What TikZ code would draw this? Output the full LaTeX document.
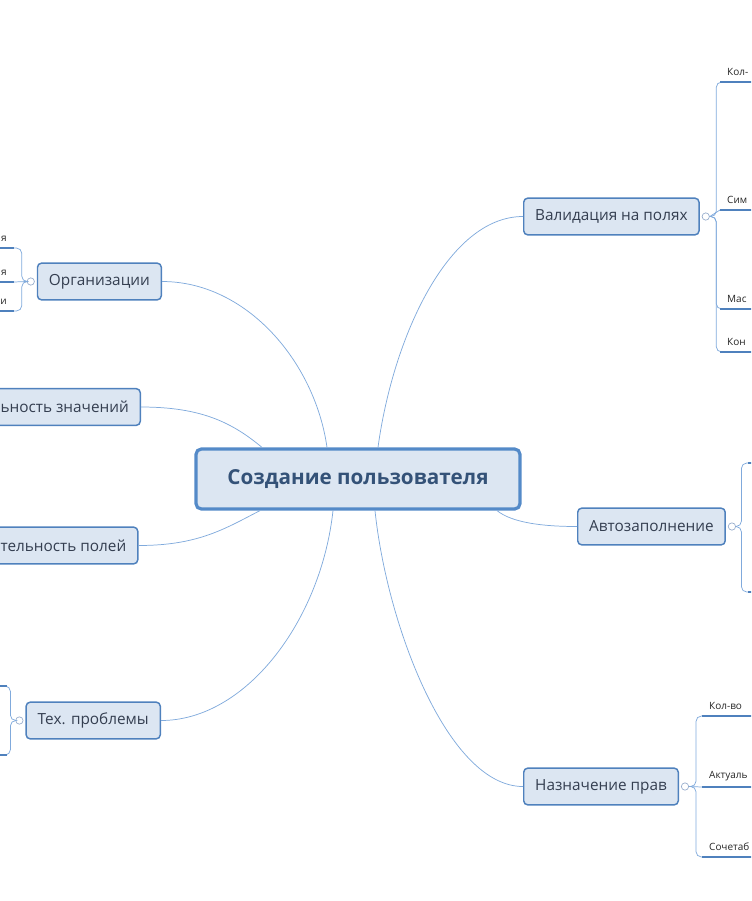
\documentclass[tikz,border=0pt]{standalone}
\usepackage{fontspec}
\setmainfont{Open Sans}
\usepackage{xcolor}
\usepackage{tikz}
\usetikzlibrary{positioning, calc}
\definecolor{boxFill}{RGB}{220, 230, 242}
\definecolor{boxEdge}{RGB}{79, 129, 189}
\definecolor{rootEdge}{RGB}{84, 138, 200}
\definecolor{rootText}{RGB}{52, 82, 120}
\definecolor{topicText}{RGB}{52, 62, 80}
\definecolor{lineLight}{RGB}{128, 170, 220}
\definecolor{foldEdge}{RGB}{150, 172, 204}

\begin{document}
\begin{tikzpicture}[x=0.75pt, y=-0.75pt,
    root/.style={draw=rootEdge, line width=2.4pt, rounded corners=4pt, fill=boxFill, minimum width=243pt, minimum height=45pt, text=rootText, font=\fontsize{15.5}{18}\selectfont\bfseries},
    topic/.style={draw=boxEdge, line width=1.1pt, rounded corners=3pt, fill=boxFill, minimum height=27.5pt, inner xsep=8.6pt, text=topicText, font=\fontsize{11.5}{14}\selectfont},
    conn/.style={draw=lineLight, line width=0.55pt},
    twig/.style={draw=lineLight, line width=0.55pt, rounded corners=4pt},
    leaf/.style={draw=boxEdge, line width=1.5pt},
    fold/.style={circle, draw=foldEdge, fill=white, line width=0.5pt, inner sep=0pt, minimum size=5.5pt},
    lbl/.style={inner xsep=5.2pt, inner ysep=4.5pt, text=black!85, font=\fontsize{7.5}{9}\selectfont}]
    \useasboundingbox (0,0) rectangle (751,901);
    \clip (0,0) rectangle (751,901);
    % Central box
    \node[root] (root) at (358,479) {Создание пользователя};
    % Topics
    \node[topic, anchor=west] (val) at (523,216.5) {Валидация на полях};
    \node[topic, anchor=west] (auto) at (577,526.5) {Автозаполнение};
    \node[topic, anchor=west] (rights) at (523,786.5) {Назначение прав};
    \node[topic, anchor=east] (tech) at (161,720.5) {Тех. проблемы};
    \node[topic, anchor=east] (org) at (162,281.5) {Организации};
    \node[topic, anchor=east] (vals) at (141,407) {ьность значений};
    \node[topic, anchor=east] (order) at (138.5,545.5) {тельность полей};
    % Fold marks
    \node[fold, right=1.5pt of val] (fval) {};
    \node[fold, right=1.5pt of auto] (fauto) {};
    \node[fold, right=1.5pt of rights] (frights) {};
    \node[fold, left=1.5pt of tech] (ftech) {};
    \node[fold, left=1.5pt of org] (forg) {};
    % Connectors from the centre
    \draw[conn] ($(root.north)+(-31,0)$) .. controls +(-12,-85) and +(85,0) .. (org.east);
    \draw[conn] ($(root.north)+(20,0)$) .. controls +(15,-110) and +(-75,0) .. (val.west);
    \draw[conn] ($(root.north)+(-96,0)$) .. controls +(-30,-25) and +(60,0) .. (vals.east);
    \draw[conn] ($(root.south)+(-98,0)$) .. controls +(-35,18) and +(60,0) .. (order.east);
    \draw[conn] ($(root.south)+(-25,0)$) .. controls +(-12,110) and +(85,0) .. (tech.east);
    \draw[conn] ($(root.south)+(17,0)$) .. controls +(12,115) and +(-75,0) .. (rights.west);
    \draw[conn] ($(root.south)+(139,0)$) .. controls +(15,12) and +(-35,0) .. (auto.west);
    % Validation subtopics
    \node[lbl, anchor=south west] (vc1) at (720,82) {Кол-};
    \node[lbl, anchor=south west] (vc2) at (720,210) {Сим};
    \node[lbl, anchor=south west] (vc3) at (720,309) {Мас};
    \node[lbl, anchor=south west] (vc4) at (720,352) {Кон};
    \draw[twig] (fval.east) -- ++(6.5,0) |- (vc1.south west);
    \draw[conn] (fval.east) -- (vc2.south west);
    \draw[twig] (fval.east) -- ++(6.5,0) |- (vc3.south west);
    \draw[twig] (fval.east) -- ++(6.5,0) |- (vc4.south west);
    \foreach \c in {vc1,vc2,vc3,vc4}
        \draw[leaf] (\c.south west) -- ++(45,0);
    % Autofill subtopics
    \coordinate (ac1) at (748,463);
    \coordinate (ac2) at (748,592);
    \draw[twig] (fauto.east) -- ++(5.5,0) |- (ac1);
    \draw[twig] (fauto.east) -- ++(5.5,0) |- (ac2);
    \draw[leaf] (ac1) -- ++(20,0);
    \draw[leaf] (ac2) -- ++(20,0);
    % Rights subtopics
    \node[lbl, anchor=south west] (rc1) at (702,716) {Кол-во};
    \node[lbl, anchor=south west] (rc2) at (702,787) {Актуаль};
    \node[lbl, anchor=south west] (rc3) at (702,857) {Сочетаб};
    \draw[twig] (frights.east) -- ++(7,0) |- (rc1.south west);
    \draw[conn] (frights.east) -- (rc2.south west);
    \draw[twig] (frights.east) -- ++(7,0) |- (rc3.south west);
    \foreach \c in {rc1,rc2,rc3}
        \draw[leaf] (\c.south west) -- ++(60,0);
    % Tech subtopics
    \coordinate (tc1) at (7,686);
    \coordinate (tc2) at (7,755);
    \draw[twig] (ftech.west) -- ++(-5,0) |- (tc1);
    \draw[twig] (ftech.west) -- ++(-5,0) |- (tc2);
    \draw[leaf] (tc1) -- ++(-20,0);
    \draw[leaf] (tc2) -- ++(-20,0);
    % Organisation subtopics
    \node[lbl, anchor=south east] (oc1) at (14,248) {я};
    \node[lbl, anchor=south east] (oc2) at (14,282) {я};
    \node[lbl, anchor=south east] (oc3) at (14,311) {и};
    \draw[twig] (forg.west) -- ++(-5,0) |- (oc1.south east);
    \draw[conn] (forg.west) -- (oc2.south east);
    \draw[twig] (forg.west) -- ++(-5,0) |- (oc3.south east);
    \foreach \c in {oc1,oc2,oc3}
        \draw[leaf] (\c.south east) -- ++(-20,0);
\end{tikzpicture}
\end{document}
